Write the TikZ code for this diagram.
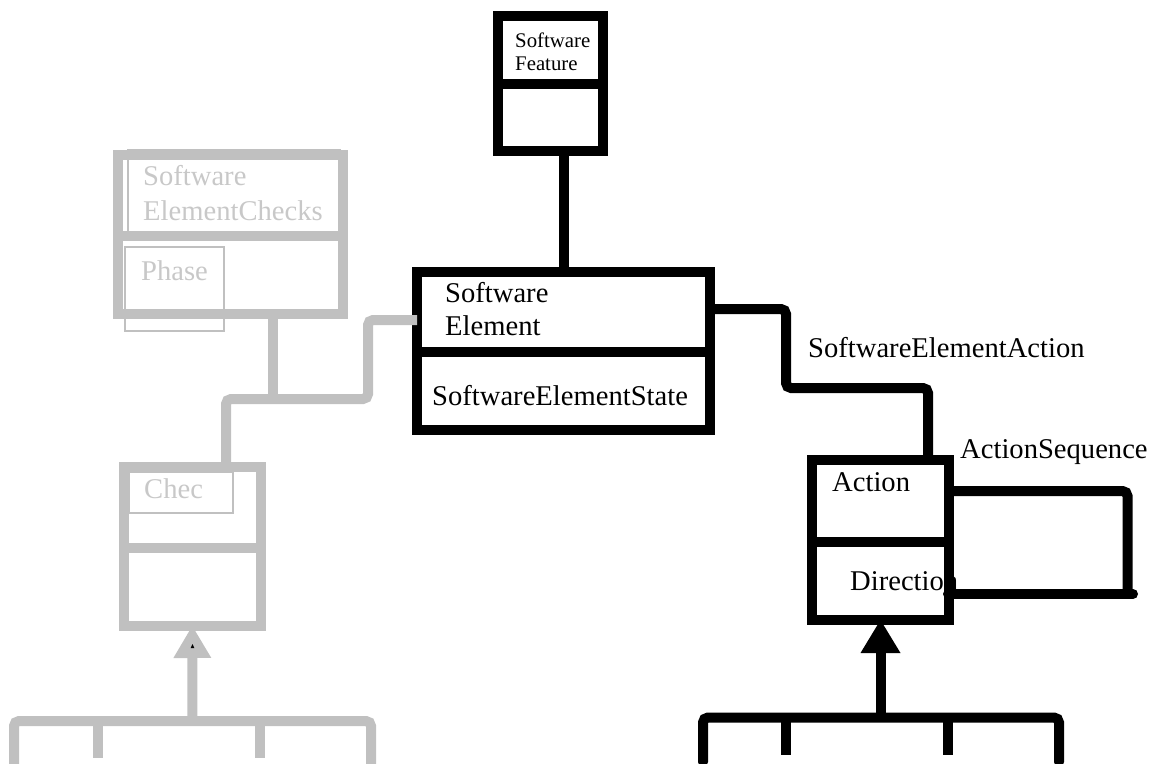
\documentclass[tikz,border=0pt]{standalone}
\usepackage{fontspec}
\setmainfont{Liberation Serif}
\usetikzlibrary{arrows.meta,calc}
\definecolor{lightline}{RGB}{192,192,192}
\definecolor{lighttext}{RGB}{200,200,200}
\newcommand\classfont{\fontsize{28.6}{33}\selectfont}
\newcommand\smallclassfont{\fontsize{20.8}{23}\selectfont}

\begin{document}
\begin{tikzpicture}[x=1pt,y=-1pt,
  classbox/.style={draw, line width=10pt, inner sep=0pt, outer sep=0pt},
  darkbox/.style={classbox, draw=black},
  palebox/.style={classbox, draw=lightline},
  darkline/.style={draw=black, line width=10pt},
  paleline/.style={draw=lightline, line width=10pt},
  attrbox/.style={draw=lightline, line width=1.8pt},
  lbl/.style={anchor=base west, inner sep=0pt, font=\classfont},
  palelbl/.style={lbl, text=lighttext},
  smalllbl/.style={anchor=base west, inner sep=0pt, font=\smallclassfont},
]
\useasboundingbox (0,0) rectangle (1156,763);

% thin attribute frames inside the faded classes
\draw[attrbox] (128,150) rectangle (340,234);
\draw[attrbox] (125,247) rectangle (224,331);
\draw[attrbox] (129,472) rectangle (233,513);

% class and role labels
\node[smalllbl] (sfa) at (515,47) {Software};
\node[smalllbl] (sfb) at (515,70) {Feature};
\node[palelbl] (seca) at (143,185) {Software};
\node[palelbl] (secb) at (143,220) {ElementChecks};
\node[palelbl] (phase) at (141,280) {Phase};
\node[palelbl] (chect) at (144,498) {Chec};
\node[lbl] (sea) at (445,302) {Software};
\node[lbl] (seb) at (445,335) {Element};
\node[lbl] (ses) at (432,405) {SoftwareElementState};
\node[lbl] (sact) at (808,357) {SoftwareElementAction};
\node[lbl] (aseq) at (960,458) {ActionSequence};
\node[lbl] (actt) at (832,491) {Action};
\node[lbl] (dirt) at (850,590) {Direction};

% class frames
\node[palebox, minimum width=224.5pt, minimum height=159.5pt] (sec) at (230.25,234.25) {};
\node[palebox, minimum width=137.5pt, minimum height=159pt] (chec) at (192.25,546.5) {};
\node[darkbox, minimum width=104.5pt, minimum height=135pt] (sf) at (550.25,83) {};
\node[darkbox, minimum width=293pt, minimum height=158pt] (se) at (563.5,351) {};
\node[darkbox, minimum width=137pt, minimum height=160pt] (act) at (880.5,540) {};

% routing points
\coordinate (g1) at (368,399);
\coordinate (g2) at (226,399);
\coordinate (gb) at (273,399);
\coordinate (gt) at (192.5,721);
\coordinate (b1) at (786,388);
\coordinate (b2) at (928,388);
\coordinate (bt) at (880.5,717.5);
\coordinate (lp) at (1127.5,594);

% faded connectors
\begin{scope}[paleline, rounded corners=5pt]
  \draw (se.west |- 0,320) -| (g1) -| ($(chec.north)+(33.75,0)$);
  \draw (gb |- sec.south) -- (gb);
\end{scope}
\draw[paleline, rounded corners=5pt] (14,775) |- (371,721) -- (371,775);
\draw[paleline] (98,721) -- (98,758);
\draw[paleline] (260,721) -- (260,758);
\draw[paleline, -{Triangle[width=38pt,length=32pt,line width=0pt]}] (gt) -- (chec.south);
\fill[black] (192.5,644) -- (194.3,648) -- (190.7,648) -- cycle;

% faded compartments
\draw[paleline] (sec.west |- 0,236) -- (sec.east |- 0,236);
\draw[paleline] (chec.west |- 0,548) -- (chec.east |- 0,548);
\node[palebox, minimum width=224.5pt, minimum height=159.5pt] at (sec) {};
\node[palebox, minimum width=137.5pt, minimum height=159pt] at (chec) {};

% dark connectors
\draw[darkline] (se.north) -- (se.north |- sf.south);
\draw[darkline, rounded corners=5pt] (se.east |- 0,309) -| (b1) -| (b2 |- act.north);
\draw[darkline, rounded corners=5pt, line cap=round] (703,762) |- (1059,717.5) -- (1059,762);
\draw[darkline] (786,717.5) -- (786,755);
\draw[darkline] (948,717.5) -- (948,755);
\draw[darkline, -{Triangle[width=40pt,length=33pt,line width=0pt]}] (bt) -- (act.south);

% dark compartments
\draw[darkline] (sf.west |- 0,84) -- (sf.east |- 0,84);
\draw[darkline] (se.west |- 0,352) -- (se.east |- 0,352);
\draw[darkline] (act.west |- 0,542) -- (act.east |- 0,542);

% self association on Action
\draw[darkline, rounded corners=5pt] (act.east |- 0,491) -| (lp);
\draw[darkline, line cap=round] ($(lp)+(5.5,0)$) -- (948,594);
\end{tikzpicture}
\end{document}
